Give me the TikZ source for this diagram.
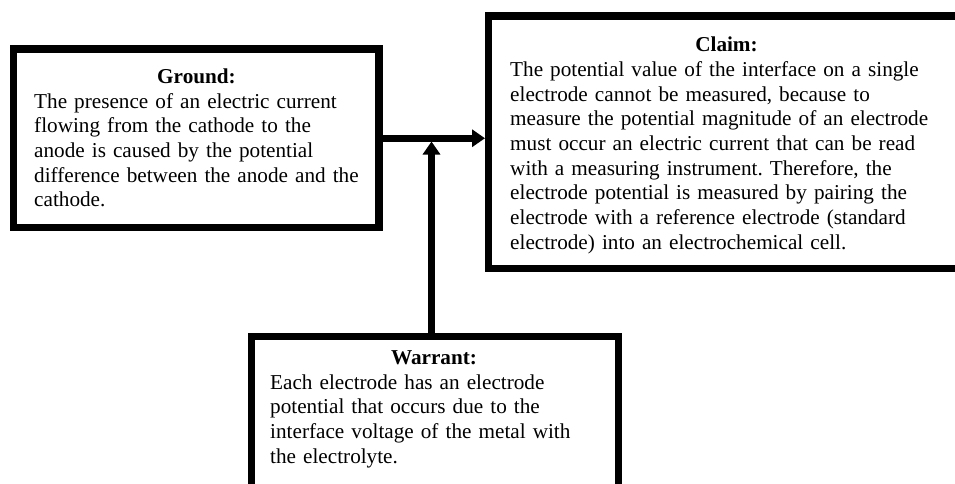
\documentclass[tikz,border=0pt]{standalone}
\usepackage{fontspec}
\setmainfont{Liberation Serif}
\usetikzlibrary{arrows.meta}
\frenchspacing
\begin{document}
\begin{tikzpicture}[x=1pt,y=-1pt,
  box/.style={draw=black,line width=7.5pt,inner sep=0pt,outer sep=0pt,fill=white},
  conn/.style={line width=6.5pt,-{Triangle[length=13pt,width=17pt]}},
  ttl/.style={font=\fontsize{21.2pt}{24.7pt}\selectfont\bfseries,inner sep=0pt,anchor=base},
  body/.style={font=\fontsize{21.2pt}{24.7pt}\selectfont\frenchspacing,inner sep=0pt,anchor=base west,text width=440pt,align=left}]
\useasboundingbox (0,0) rectangle (955,483);
\clip (0,0) rectangle (955,483);
\fill[white] (0,0) rectangle (955,483);
% boxes
\node[box,minimum width=365.5pt,minimum height=178.5pt] (ground) at (196.25,138.25) {};
\node[box,minimum width=476pt,minimum height=252.5pt] (claim) at (726.5,142.25) {};
\node[box,minimum width=367pt,minimum height=170pt] (warrant) at (435,421.5) {};
% texts
\node[ttl] (gt) at (196.5,83.3) {Ground:};
\node[body] (gb) at (34,108) {The presence of an electric current\\
flowing from the cathode to the\\
anode is caused by the potential\\
difference between the anode and the\\
cathode.};
\node[ttl] (ct) at (726.5,51.7) {Claim:};
\node[body] (cb) at (510,76.4) {The potential value of the interface on a single\\
electrode cannot be measured, because to\\
measure the potential magnitude of an electrode\\
must occur an electric current that can be read\\
with a measuring instrument. Therefore, the\\
electrode potential is measured by pairing the\\
electrode with a reference electrode (standard\\
electrode) into an electrochemical cell.};
\node[ttl] (wt) at (434,364) {Warrant:};
\node[body] (wb) at (270,389) {Each electrode has an electrode\\
potential that occurs due to the\\
interface voltage of the metal with\\
the electrolyte.};
% connectors
\coordinate (j) at (431.5,141.5);
\draw[conn,shorten >=3.5pt] (ground.east) -- (ground.east -| claim.west);
\draw[conn] (j |- warrant.north) -- (j);
\end{tikzpicture}
\end{document}
